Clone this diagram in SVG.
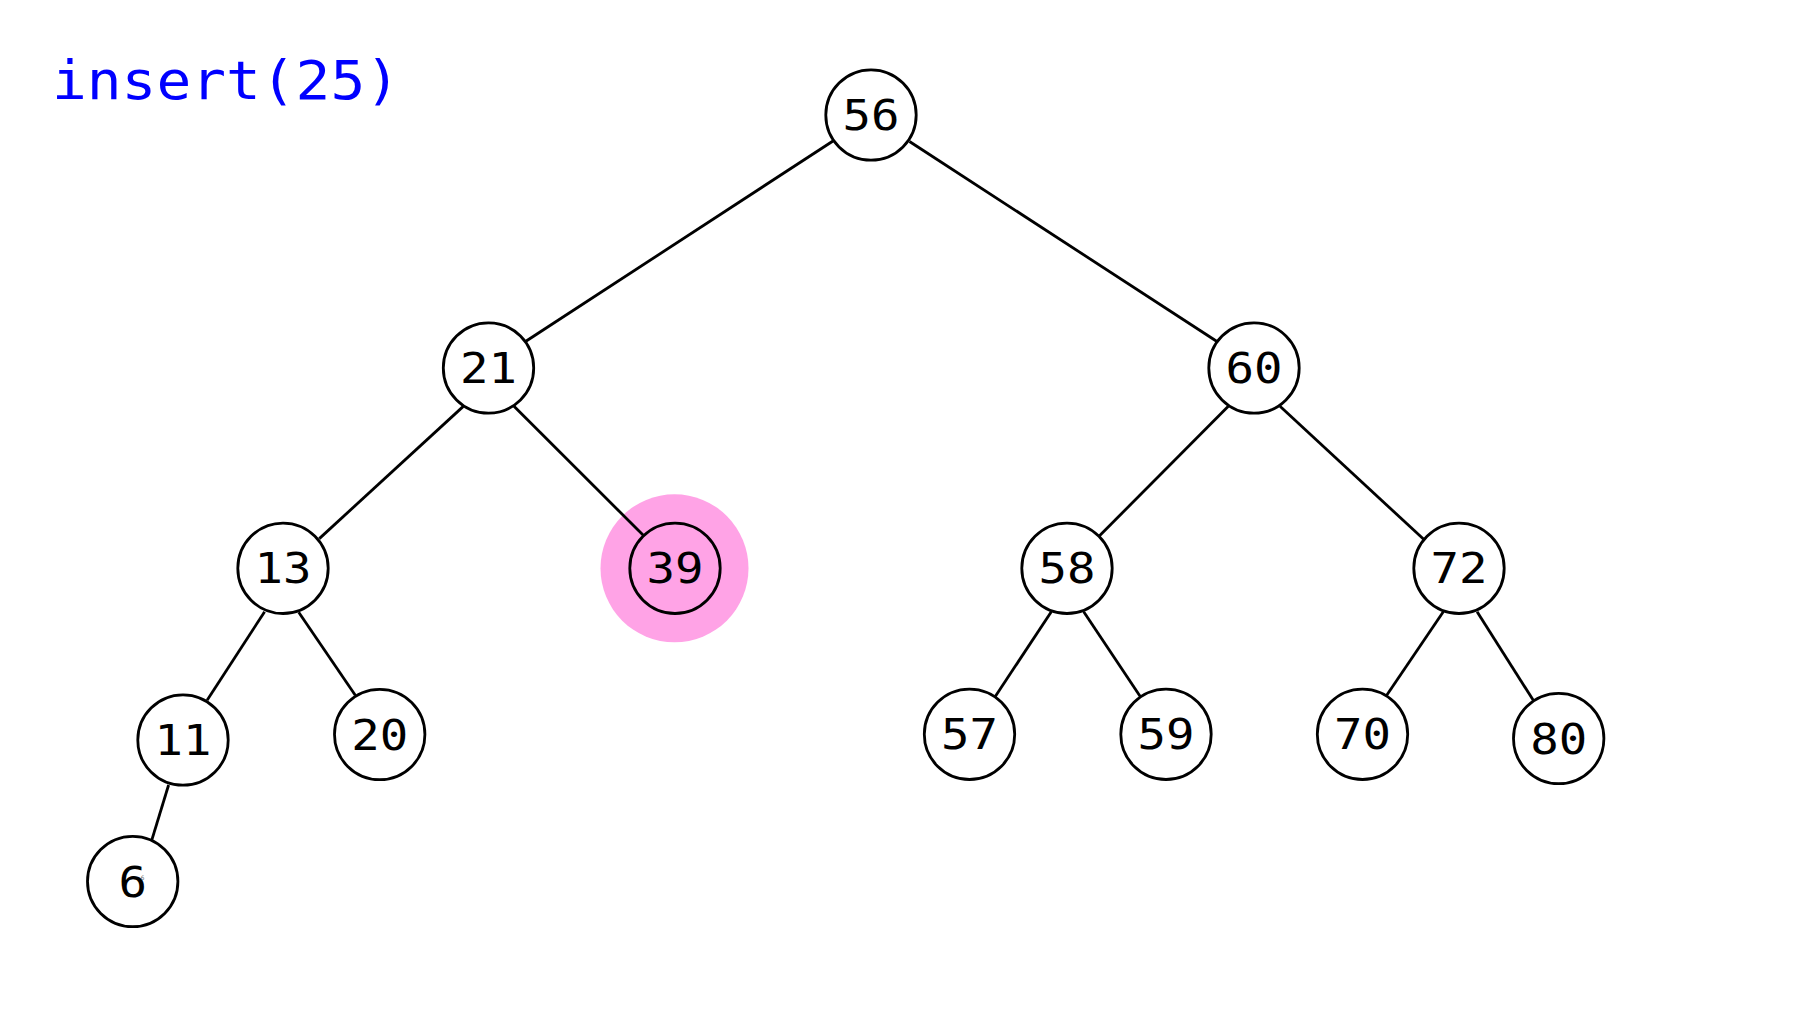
<svg xmlns="http://www.w3.org/2000/svg" width="1814" height="1021" viewBox="0 0 1814 1021">
<style>
.edge{stroke:#000;stroke-width:2.8;fill:none;stroke-linecap:butt}
.node circle{fill:#fff;stroke:#000;stroke-width:2.8}
.node text{font-family:"DejaVu Sans Mono","Liberation Mono",monospace;font-size:43px;fill:#000;text-anchor:middle}
.hl circle{fill:#ffa3e6;stroke:#000;stroke-width:2.8}
.title{font-family:"DejaVu Sans Mono","Liberation Mono",monospace;font-size:53px;fill:#0000ff}
</style>
<rect width="1814" height="1021" fill="#fff"/>
<text class="title" x="52" y="99" textLength="348" lengthAdjust="spacingAndGlyphs">insert(25)</text>
<g id="highlight"><circle cx="674.5" cy="568.3" r="74" fill="#ffa3e6"/></g>
<g id="connectors">
<line class="edge" x1="833" y1="141" x2="525.5" y2="341.5"/>
<line class="edge" x1="909.5" y1="141.5" x2="1217" y2="341.5"/>
<line class="edge" x1="463.3" y1="406.4" x2="319.3" y2="538.6"/>
<line class="edge" x1="514" y1="406.3" x2="643.3" y2="535.3"/>
<line class="edge" x1="1228.3" y1="406.3" x2="1098.3" y2="537"/>
<line class="edge" x1="1280" y1="406.3" x2="1423.7" y2="539.3"/>
<line class="edge" x1="264.6" y1="611.7" x2="207.1" y2="700.3"/>
<line class="edge" x1="298.7" y1="612.3" x2="355.3" y2="695.3"/>
<line class="edge" x1="168.6" y1="785" x2="151.7" y2="840.3"/>
<line class="edge" x1="1051.3" y1="611.7" x2="995.1" y2="696.7"/>
<line class="edge" x1="1083.7" y1="611.7" x2="1140.6" y2="697"/>
<line class="edge" x1="1443.3" y1="611.7" x2="1386.7" y2="695.3"/>
<line class="edge" x1="1477.1" y1="611.7" x2="1533.3" y2="700.3"/>
</g>
<g id="n56" class="node"><circle cx="871" cy="115" r="45.2"/><text x="871" y="130" textLength="57" lengthAdjust="spacingAndGlyphs">56</text></g>
<g id="n21" class="node"><circle cx="488.5" cy="368" r="45.2"/><text x="488.5" y="383" textLength="57" lengthAdjust="spacingAndGlyphs">21</text></g>
<g id="n60" class="node"><circle cx="1254" cy="368" r="45.2"/><text x="1254" y="383" textLength="57" lengthAdjust="spacingAndGlyphs">60</text></g>
<g id="n13" class="node"><circle cx="283" cy="568.3" r="45.2"/><text x="283" y="583.3" textLength="57" lengthAdjust="spacingAndGlyphs">13</text></g>
<g id="n39" class="node hl"><circle cx="675" cy="568.3" r="45.2"/><text x="675" y="583.3" textLength="57" lengthAdjust="spacingAndGlyphs">39</text></g>
<g id="n58" class="node"><circle cx="1067" cy="568.3" r="45.2"/><text x="1067" y="583.3" textLength="57" lengthAdjust="spacingAndGlyphs">58</text></g>
<g id="n72" class="node"><circle cx="1459" cy="568.3" r="45.2"/><text x="1459" y="583.3" textLength="57" lengthAdjust="spacingAndGlyphs">72</text></g>
<g id="n11" class="node"><circle cx="183" cy="740" r="45.2"/><text x="183" y="755" textLength="57" lengthAdjust="spacingAndGlyphs">11</text></g>
<g id="n20" class="node"><circle cx="379.7" cy="734.5" r="45.2"/><text x="379.7" y="749.5" textLength="57" lengthAdjust="spacingAndGlyphs">20</text></g>
<g id="n57" class="node"><circle cx="969.5" cy="734.3" r="45.2"/><text x="969.5" y="749.3" textLength="57" lengthAdjust="spacingAndGlyphs">57</text></g>
<g id="n59" class="node"><circle cx="1166" cy="734.3" r="45.2"/><text x="1166" y="749.3" textLength="57" lengthAdjust="spacingAndGlyphs">59</text></g>
<g id="n70" class="node"><circle cx="1362.5" cy="734.3" r="45.2"/><text x="1362.5" y="749.3" textLength="57" lengthAdjust="spacingAndGlyphs">70</text></g>
<g id="n80" class="node"><circle cx="1558.7" cy="738.5" r="45.2"/><text x="1558.7" y="753.5" textLength="57" lengthAdjust="spacingAndGlyphs">80</text></g>
<g id="n6" class="node"><circle cx="132.7" cy="881.5" r="45.2"/><text x="132.7" y="896.5" textLength="28.5" lengthAdjust="spacingAndGlyphs">6</text><text x="142.5" y="880" style="font-size:6px;fill:#666">6</text></g>
</svg>
